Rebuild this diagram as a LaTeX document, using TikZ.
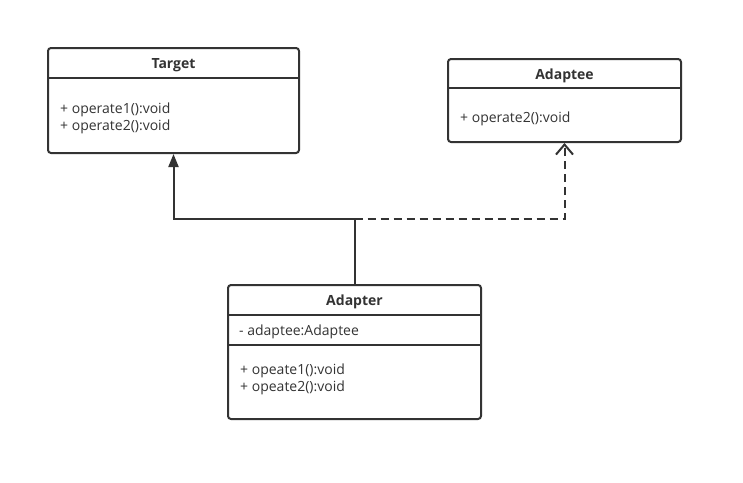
\documentclass[tikz,border=0pt]{standalone}
\usepackage{fontspec}
\setmainfont{Open Sans}
\usetikzlibrary{arrows.meta}

\definecolor{umlgray}{HTML}{333333}

\begin{document}
\begin{tikzpicture}[
        x=1pt,
        y=-1pt,
        >=stealth,
        classbox/.style={
          draw=umlgray,
          line width=2pt,
          rounded corners=3pt,
          inner sep=0pt
        },
        classname/.style={
          font=\fontsize{14}{16}\selectfont\bfseries,
          text=umlgray
        },
        member/.style={
          anchor=west,
          inner sep=0pt,
          font=\fontsize{14}{16}\selectfont,
          text=umlgray
        },
        divider/.style={
          draw=umlgray,
          line width=1.8pt
        },
        inherit/.style={
          draw=umlgray,
          line width=2pt,
          -{Triangle[length=13pt,width=10pt]}
        },
        realize/.style={
          draw=umlgray,
          line width=2pt,
          dash pattern=on 8pt off 5pt,
          -{Straight Barb[length=10pt,width=17pt,line width=2pt]}
        }
      ]
        \useasboundingbox (0,0) rectangle (743,482);

        % classes
        \node[classbox,minimum width=251pt,minimum height=105pt] (target) at (173.5,100.5) {};
        \node[classbox,minimum width=233pt,minimum height=83pt] (adaptee) at (564.5,100.5) {};
        \node[classbox,minimum width=253pt,minimum height=134pt] (adapter) at (354.5,352) {};

        \node[classname] (target-name) at (173.5,65) {Target};
        \node[classname] (adaptee-name) at (564.5,76) {Adaptee};
        \node[classname] (adapter-name) at (354.5,302) {Adapter};

        \draw[divider] (48,78) -- (299,78);
        \draw[divider] (448,88) -- (681,88);
        \draw[divider] (228,315) -- (481,315);
        \draw[divider] (228,345) -- (481,345);

        % members
        \foreach \y/\m in {110/1,127/2}
          \node[member] (target-op\m) at (60,\y) {+ operate\m():void};
        \node[member] (adaptee-op2) at (460,119) {+ operate2():void};
        \node[member] (adapter-field) at (239,332) {- adaptee:Adaptee};
        \foreach \y/\m in {371/1,388/2}
          \node[member] (adapter-op\m) at (240,\y) {+ opeate\m():void};

        % relations
        \coordinate (joint) at (354.5,219);
        \draw[inherit] (adapter.north) -- (joint) -| (target.south);
        \draw[realize] (joint) -| (adaptee.south);
      \end{tikzpicture}
\end{document}
